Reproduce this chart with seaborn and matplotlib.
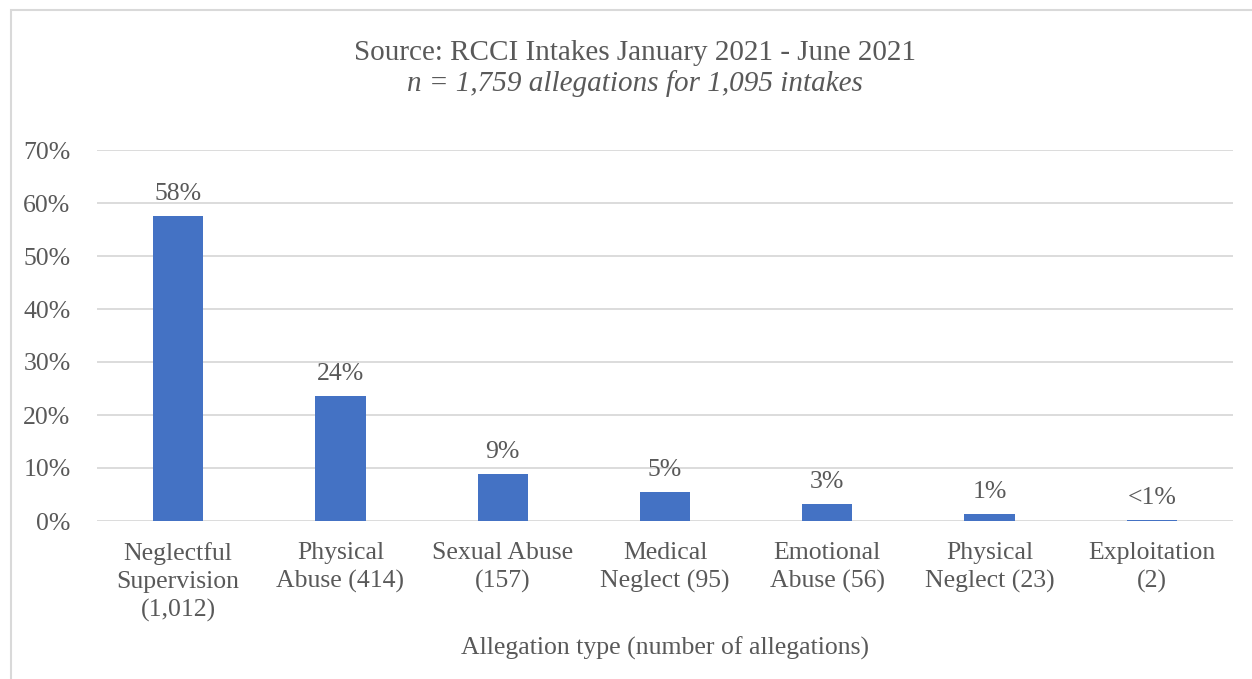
import seaborn as sns
import pandas as pd
import matplotlib
matplotlib.use("Agg")
from matplotlib import pyplot as plt
from matplotlib.patches import Rectangle

categories = ["Neglectful\nSupervision\n(1,012)", "Physical\nAbuse (414)",
              "Sexual Abuse\n(157)", "Medical\nNeglect (95)",
              "Emotional\nAbuse (56)", "Physical\nNeglect (23)",
              "Exploitation\n(2)"]
counts = [1012, 414, 157, 95, 56, 23, 2]
total = 1759
labels = ["58%", "24%", "9%", "5%", "3%", "1%", "<1%"]
yticks = [0, 0.1, 0.2, 0.3, 0.4, 0.5, 0.6, 0.7]

W, H = 1252, 679
text_color = "#595959"
grid_color = "#D9D9D9"
bar_color = "#4472C4"
fs = 18.5

sns.set_theme(style="white")
plt.rcParams['font.family'] = ['Liberation Serif', 'DejaVu Serif']

df = pd.DataFrame({"type": categories, "share": [c / total for c in counts]})

fig = plt.figure(figsize=(W / 100, H / 100), dpi=100)
ax = fig.add_axes([97 / W, (H - 521) / H, (1233 - 97) / W, (521 - 150) / H])

sns.barplot(data=df, x="type", y="share", color=bar_color, width=0.31,
            saturation=1, linewidth=0, ax=ax, zorder=3)

ax.set_ylim(0, 0.7)
ax.set_yticks(yticks)
ax.set_yticklabels([f"{int(round(t * 100))}%" for t in yticks])
ax.set_xlim(-0.5, len(categories) - 0.5)
ax.yaxis.grid(True, color=grid_color, linewidth=1.3, zorder=0)
for s in ax.spines.values():
    s.set_visible(False)
ax.tick_params(axis="both", length=0, colors=text_color, labelsize=fs)
ax.tick_params(axis="y", pad=19)
ax.tick_params(axis="x", pad=15)
for t in ax.get_xticklabels():
    t.set_linespacing(1.36)

for i, (v, lab) in enumerate(zip(df["share"], labels)):
    ax.annotate(lab, (i, v), xytext=(0, 8), textcoords="offset points",
                ha="center", va="bottom", fontsize=fs, color=text_color)

ax.set_xlabel("Allegation type (number of allegations)", fontsize=fs,
              color=text_color, labelpad=10)
ax.set_ylabel("")

fig.text(635 / W, 1 - 53 / H,
         "Source: RCCI Intakes January 2021 - June 2021",
         ha="center", va="center", fontsize=21, color=text_color)
fig.text(635 / W, 1 - 84 / H,
         "n = 1,759 allegations for 1,095 intakes", style="italic",
         ha="center", va="center", fontsize=21, color=text_color)

fig.patches.append(Rectangle((11 / W, -0.1), 1.2, 1 - 10 / H + 0.1,
                             transform=fig.transFigure, fill=False,
                             edgecolor=grid_color, linewidth=1.5))

fig.savefig("out.png", dpi=100)
plt.close(fig)
